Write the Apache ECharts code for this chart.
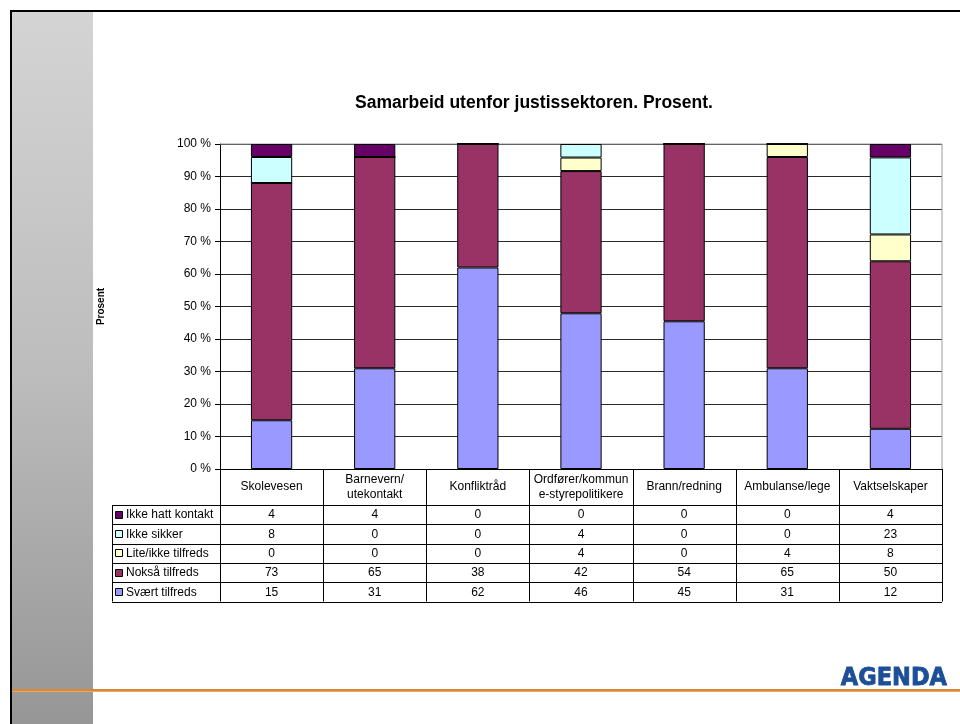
<!DOCTYPE html>
<html>
<head>
<meta charset="utf-8">
<script src="https://cdn.jsdelivr.net/npm/echarts@6/dist/echarts.min.js"></script>
<style>
  html, body { margin: 0; padding: 0; background: #fff; }
  #chart { width: 960px; height: 724px; }
</style>
</head>
<body>
<div id="chart"></div>
<script>
// Categories (x axis / table columns)
const categories = [
  'Skolevesen',
  'Barnevern/\nutekontakt',
  'Konfliktråd',
  'Ordfører/kommun\ne-styrepolitikere',
  'Brann/redning',
  'Ambulanse/lege',
  'Vaktselskaper'
];

// Answer groups, values in percent per category
const ikkeHattKontakt = [4, 4, 0, 0, 0, 0, 4];
const ikkeSikker      = [8, 0, 0, 4, 0, 0, 23];
const liteIkkeTilfreds = [0, 0, 0, 4, 0, 4, 8];
const noksaTilfreds   = [73, 65, 38, 42, 54, 65, 50];
const svaertTilfreds  = [15, 31, 62, 46, 45, 31, 12];

// Series names and colours, listed top row of the table first
const seriesNames  = ['Ikke hatt kontakt', 'Ikke sikker', 'Lite/ikke tilfreds', 'Nokså tilfreds', 'Svært tilfreds'];
const seriesValues = [ikkeHattKontakt, ikkeSikker, liteIkkeTilfreds, noksaTilfreds, svaertTilfreds];
const seriesColors = ['#660066', '#CCFFFF', '#FFFFCC', '#993366', '#9999FF'];

const title = 'Samarbeid utenfor justissektoren. Prosent.';
const yAxisName = 'Prosent';

const FONT = 'Liberation Sans, Arial, sans-serif';

// 100 % stacking: each column is scaled to its own total
const totals = categories.map((_, i) => seriesValues.reduce((s, arr) => s + arr[i], 0));
const share = arr => arr.map((v, i) => totals[i] ? v / totals[i] * 100 : 0);

// Stack bottom-up: last table row sits at the bottom of the bar
const barSeries = seriesNames.map((name, k) => ({
  name,
  type: 'bar',
  stack: 'total',
  barCategoryGap: '60%',
  data: share(seriesValues[k]),
  itemStyle: { color: seriesColors[k], borderColor: '#000', borderWidth: 1 },
  emphasis: { disabled: true },
  z: 3
})).reverse();

const GRID = { left: 220, right: 18, top: 144, bottom: 255 };

const chart = echarts.init(document.getElementById('chart'), null, { renderer: 'canvas' });

chart.setOption({
  animation: false,
  backgroundColor: '#fff',
  title: {
    text: title,
    left: 529, top: 89, textAlign: 'center',
    textStyle: { fontFamily: FONT, fontSize: 17.5, fontWeight: 'bold', color: '#000' }
  },
  grid: { left: GRID.left, right: GRID.right, top: GRID.top, bottom: GRID.bottom, containLabel: false },
  xAxis: {
    type: 'category',
    data: categories,
    axisLine: { show: true, lineStyle: { color: '#000', width: 1 } },
    axisTick: { show: false },
    axisLabel: {
      interval: 0, margin: 18, verticalAlign: 'middle',
      fontFamily: FONT, fontSize: 12, color: '#000', lineHeight: 15, align: 'center'
    }
  },
  yAxis: {
    type: 'value',
    min: 0, max: 100, interval: 10,
    name: yAxisName,
    nameLocation: 'middle',
    nameGap: 114,
    nameRotate: 90,
    nameTextStyle: { fontFamily: FONT, fontSize: 10, fontWeight: 'bold', color: '#000' },
    axisLine: { show: true, lineStyle: { color: '#000', width: 1 } },
    axisTick: { show: true, inside: false, length: 5, lineStyle: { color: '#000' } },
    axisLabel: { formatter: '{value} %', margin: 9, fontFamily: FONT, fontSize: 12, color: '#000' },
    splitLine: { show: true, lineStyle: { color: '#2a2a2a', width: 1 } }
  },
  series: barSeries
});

// Page decorations and the data table under the plot
function buildGraphics() {
  const g = [];
  const W = 960, H = 724;

  // grey side panel
  g.push({
    type: 'rect', z: -10, silent: true,
    shape: { x: 12, y: 12, width: 81, height: H - 12 },
    style: {
      fill: new echarts.graphic.LinearGradient(0, 0, 0, 1, [
        { offset: 0, color: '#d4d4d4' },
        { offset: 0.5, color: '#bdbdbd' },
        { offset: 1, color: '#969696' }
      ])
    }
  });
  // black frame (top and left)
  g.push({ type: 'line', z: 10, silent: true, shape: { x1: 10, y1: 11, x2: W, y2: 11 }, style: { stroke: '#000', lineWidth: 2 } });
  g.push({ type: 'line', z: 10, silent: true, shape: { x1: 11, y1: 10, x2: 11, y2: H }, style: { stroke: '#000', lineWidth: 2 } });
  // orange footer rule
  g.push({ type: 'line', z: 5, silent: true, shape: { x1: 12, y1: 690, x2: W, y2: 690 }, style: { stroke: '#dc8636', lineWidth: 2 } });
  g.push({ type: 'line', z: 5, silent: true, shape: { x1: 12, y1: 691.5, x2: W, y2: 691.5 }, style: { stroke: '#eaa56a', lineWidth: 1 } });
  // logo text
  g.push({
    type: 'text', z: 5, silent: true, x: 947, y: 678,
    style: {
      text: 'AGENDA', fill: '#1d4f98', stroke: '#1d4f98', lineWidth: 0.8,
      align: 'right', verticalAlign: 'middle',
      font: 'bold 25px "DejaVu Sans Condensed", "DejaVu Sans", sans-serif'
    }
  });

  // plot area border (grey top and right)
  const x0 = chart.convertToPixel({ xAxisIndex: 0 }, 0);
  const x1 = chart.convertToPixel({ xAxisIndex: 0 }, 1);
  const cw = x1 - x0;
  const left = x0 - cw / 2;
  const right = left + cw * categories.length;
  const yTop = chart.convertToPixel({ yAxisIndex: 0 }, 100);
  const yBase = chart.convertToPixel({ yAxisIndex: 0 }, 0);
  g.push({ type: 'line', z: 1, silent: true, shape: { x1: left, y1: yTop, x2: right, y2: yTop }, style: { stroke: '#9a9a9a', lineWidth: 1 } });
  g.push({ type: 'line', z: 1, silent: true, shape: { x1: right, y1: yTop, x2: right, y2: yBase }, style: { stroke: '#9a9a9a', lineWidth: 1 } });

  // table geometry
  const headerH = 36;
  const rowH = 19.3;
  const rowsTop = yBase + headerH;
  const tableBottom = rowsTop + rowH * seriesNames.length;
  const legendLeft = 112;
  const lineStyle = { stroke: '#000', lineWidth: 1 };

  // vertical column rules
  for (let i = 0; i <= categories.length; i++) {
    const x = Math.round(left + cw * i) + 0.5;
    g.push({ type: 'line', z: 4, silent: true, shape: { x1: x, y1: yBase, x2: x, y2: tableBottom }, style: lineStyle });
  }
  g.push({ type: 'line', z: 4, silent: true, shape: { x1: legendLeft + 0.5, y1: rowsTop, x2: legendLeft + 0.5, y2: tableBottom }, style: lineStyle });
  // horizontal row rules
  for (let r = 0; r <= seriesNames.length; r++) {
    const y = Math.round(rowsTop + rowH * r) + 0.5;
    g.push({ type: 'line', z: 4, silent: true, shape: { x1: legendLeft, y1: y, x2: right, y2: y }, style: lineStyle });
  }
  // row labels with colour keys, and values
  seriesNames.forEach((name, r) => {
    const cy = rowsTop + rowH * r + rowH / 2;
    g.push({
      type: 'rect', z: 4, silent: true,
      shape: { x: 115.5, y: Math.round(cy - 4) + 0.5, width: 7, height: 7 },
      style: { fill: seriesColors[r], stroke: '#000', lineWidth: 1 }
    });
    g.push({
      type: 'text', z: 4, silent: true, x: 126, y: cy + 0.5,
      style: { text: name, fill: '#000', align: 'left', verticalAlign: 'middle', font: '12px ' + FONT }
    });
    seriesValues[r].forEach((v, i) => {
      g.push({
        type: 'text', z: 4, silent: true, x: left + cw * (i + 0.5), y: cy + 0.5,
        style: { text: String(v), fill: '#000', align: 'center', verticalAlign: 'middle', font: '12px ' + FONT }
      });
    });
  });
  return g;
}

chart.setOption({ graphic: buildGraphics() });
</script>
</body>
</html>
